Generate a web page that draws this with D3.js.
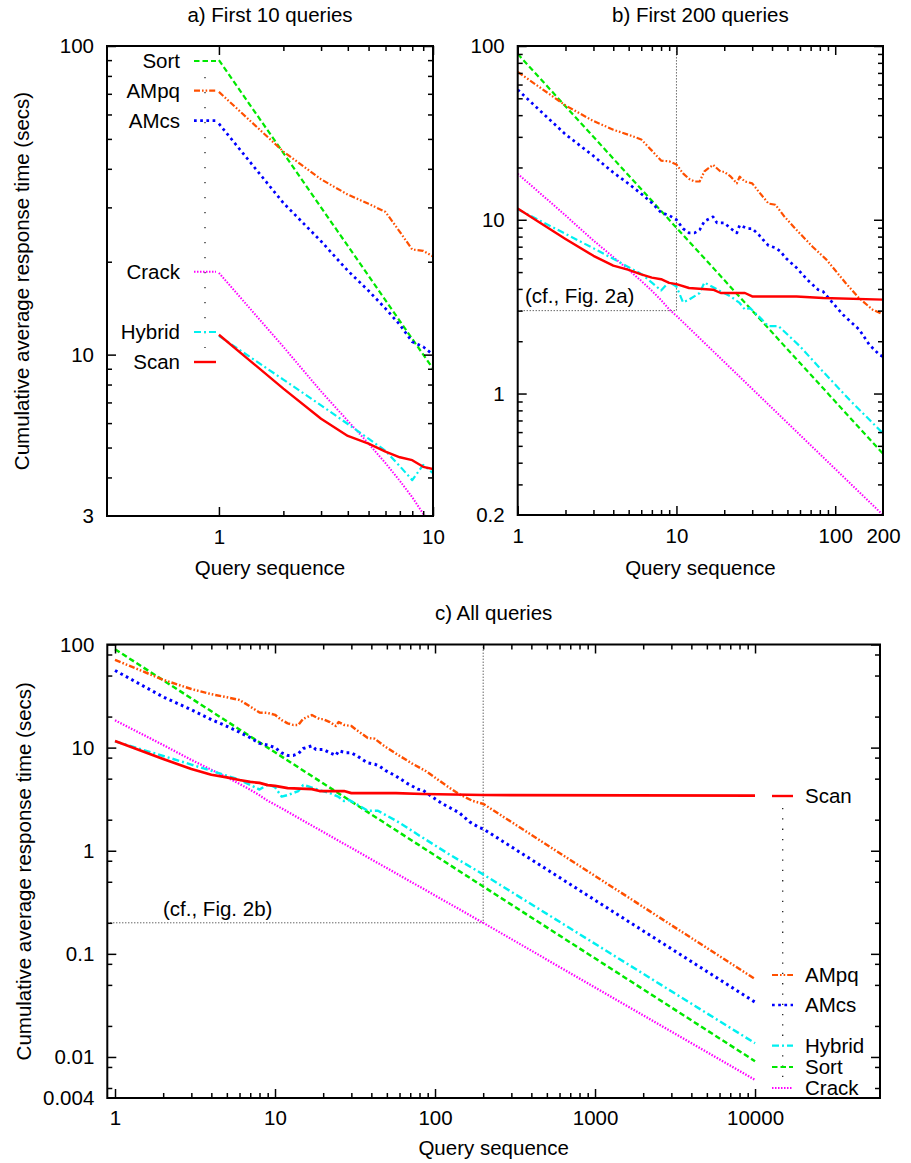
<!DOCTYPE html>
<html>
<head>
<meta charset="utf-8">
<script src="https://cdn.jsdelivr.net/npm/d3@7"></script>
<style>
  html, body { margin: 0; padding: 0; background: #fff; }
  svg { display: block; }
</style>
</head>
<body>
<svg id="chart" width="911" height="1163"></svg>
<script>
// ---- Measured cumulative average response time (secs) per query number ----
const seriesNames = ["Sort", "AMpq", "AMcs", "Crack", "Hybrid", "Scan"];

const sortQ    = [1, 10, 200, 10000];
const sortSecs = [90, 9.0, 0.45, 0.0091];

const ampqQ    = [1, 2, 3, 4, 5, 6, 7, 8, 9, 10, 11, 12, 13, 14, 15, 17, 19, 20, 22, 24, 25, 27, 30, 33, 38, 42, 48, 57, 72, 88, 117, 141, 172, 200, 10000];
const ampqSecs = [71, 45.5, 37, 33, 30.8, 29, 25, 21.9, 21.7, 20.8, 18.5, 17.2, 16.6, 16.6, 19.0, 20.7, 18.9, 18.9, 17.7, 16.2, 17.7, 16.6, 16.2, 14.5, 12.4, 12.2, 10.4, 8.75, 7.0, 5.9, 4.3, 3.55, 3.04, 2.85, 0.057];

const amcsQ    = [1, 2, 3, 4, 5, 6, 7, 8, 9, 10, 11, 12, 13, 14, 15, 17, 18, 20, 22, 24, 25, 28, 30, 33, 35, 38, 42, 45, 49, 57, 67, 78, 84, 97, 112, 142, 164, 190, 200, 10000];
const amcsSecs = [56, 31, 23.3, 18.7, 16.1, 14.1, 12.5, 11.0, 10.6, 10.0, 8.9, 8.4, 8.4, 8.75, 9.8, 10.4, 9.6, 9.6, 8.9, 8.4, 9.3, 8.9, 8.9, 8.2, 7.7, 7.1, 6.9, 6.6, 6.0, 5.3, 4.5, 3.96, 3.86, 3.3, 2.84, 2.33, 1.91, 1.67, 1.63, 0.034];

const crackQ    = [1, 2, 3, 4, 5, 6, 7, 8, 9, 10, 200, 10000];
const crackSecs = [18.4, 10.6, 7.6, 6.1, 5.15, 4.45, 3.9, 3.45, 3.05, 2.8, 0.2, 0.006];

const hybridQ    = [1, 2, 3, 4, 5, 6, 7, 8, 9, 10, 11, 12, 14, 15, 16, 19, 22, 25, 27, 29, 33, 38, 44, 60, 80, 123, 200, 10000];
const hybridSecs = [11.5, 8.3, 6.85, 5.96, 5.34, 4.88, 4.35, 3.92, 4.39, 4.13, 3.35, 3.47, 3.79, 4.35, 4.22, 3.87, 3.62, 3.32, 3.04, 3.11, 2.78, 2.44, 2.44, 1.87, 1.4, 0.92, 0.59, 0.0136];

const scanQ    = [1, 2, 3, 4, 5, 6, 7, 8, 9, 10, 12, 17, 19, 27, 30, 57, 84, 200, 10000];
const scanSecs = [11.6, 7.76, 6.2, 5.45, 5.15, 4.85, 4.65, 4.55, 4.33, 4.26, 4.05, 3.96, 3.79, 3.79, 3.62, 3.62, 3.55, 3.47, 3.42];

// ---- Tick labels ----
const xTicksA = [1, 10];
const yTicksA = [3, 10, 100];
const xTicksB = [1, 10, 100, 200];
const yTicksB = [0.2, 1, 10, 100];
const xTicksC = [1, 10, 100, 1000, 10000];
const yTicksC = [0.004, 0.01, 0.1, 1, 10, 100];

const titles = ["a) First 10 queries", "b) First 200 queries", "c) All queries"];
const xTitle = "Query sequence";
const yTitle = "Cumulative average response time (secs)";

// ---- Assemble series ----
const zip = (q, s) => q.map((d, i) => [d, s[i]]);
const series = {
  Sort:   zip(sortQ, sortSecs),
  AMpq:   zip(ampqQ, ampqSecs),
  AMcs:   zip(amcsQ, amcsSecs),
  Crack:  zip(crackQ, crackSecs),
  Hybrid: zip(hybridQ, hybridSecs),
  Scan:   zip(scanQ, scanSecs)
};

const styles = {
  Sort:   { color: "#00e800", dash: "5.5,3",             width: 2.2 },
  AMpq:   { color: "#ff5000", dash: "6,2,1.6,2,1.6,2",   width: 2.2 },
  AMcs:   { color: "#0000ff", dash: "2.7,3.5",           width: 2.7 },
  Crack:  { color: "#ff00ff", dash: "1.5,1.5",           width: 2 },
  Hybrid: { color: "#00f0f0", dash: "7,3,2,3",           width: 2.2 },
  Scan:   { color: "#ff0000", dash: null,                width: 2.4 }
};

const FONT = "'Liberation Sans', Arial, Helvetica, sans-serif";
const FS = 20.5;

const svg = d3.select("#chart");
svg.append("rect").attr("width", 911).attr("height", 1163).attr("fill", "#fff");

function decadeMultiples(lo, hi, mults) {
  const out = [];
  for (let k = Math.floor(Math.log10(lo)) - 1; k <= Math.ceil(Math.log10(hi)); k++) {
    mults.forEach(m => {
      const v = m * Math.pow(10, k);
      if (v > lo * 1.0001 && v < hi * 0.9999) out.push(v);
    });
  }
  return out;
}
const isDecade = v => Math.abs(Math.log10(v) - Math.round(Math.log10(v))) < 1e-9;
const fmt = d => String(d);

function drawAxisSet(g, x, y, cfg) {
  const [x0, x1] = x.range();
  const [y0, y1] = y.range(); // y0 bottom, y1 top
  const majorLen = 9, minorLen = 5;

  const xMajor = cfg.xTicks.filter(isDecade);
  const yMajor = cfg.yTicks.filter(isDecade);
  const xEdge = cfg.xTicks.filter(v => !isDecade(v));
  const yEdge = cfg.yTicks.filter(v => !isDecade(v));

  function place(axis, transform, withText) {
    const sel = g.append("g").attr("transform", transform).call(axis);
    sel.select(".domain").remove();
    sel.attr("font-family", FONT).attr("font-size", FS);
    sel.selectAll("line").attr("stroke", "#000").attr("stroke-width", 1.5);
    sel.selectAll("text").attr("fill", "#000");
    if (!withText) sel.selectAll("text").remove();
    return sel;
  }

  // bottom / top
  place(d3.axisBottom(x).tickValues(xMajor).tickSizeInner(-majorLen).tickSizeOuter(0).tickPadding(cfg.xPad).tickFormat(fmt),
        `translate(0,${y0})`, true);
  place(d3.axisBottom(x).tickValues(cfg.xMinor).tickSizeInner(-minorLen).tickSizeOuter(0).tickFormat(""),
        `translate(0,${y0})`, false);
  if (xEdge.length)
    place(d3.axisBottom(x).tickValues(xEdge).tickSizeInner(0).tickSizeOuter(0).tickPadding(cfg.xPad).tickFormat(fmt),
          `translate(0,${y0})`, true);
  place(d3.axisTop(x).tickValues(xMajor).tickSizeInner(-majorLen).tickSizeOuter(0).tickFormat(""),
        `translate(0,${y1})`, false);
  place(d3.axisTop(x).tickValues(cfg.xMinor).tickSizeInner(-minorLen).tickSizeOuter(0).tickFormat(""),
        `translate(0,${y1})`, false);

  // left / right
  place(d3.axisLeft(y).tickValues(yMajor).tickSizeInner(-majorLen).tickSizeOuter(0).tickPadding(cfg.yPad).tickFormat(fmt),
        `translate(${x0},0)`, true);
  place(d3.axisLeft(y).tickValues(cfg.yMinor).tickSizeInner(-minorLen).tickSizeOuter(0).tickFormat(""),
        `translate(${x0},0)`, false);
  if (yEdge.length)
    place(d3.axisLeft(y).tickValues(yEdge).tickSizeInner(0).tickSizeOuter(0).tickPadding(cfg.yPad).tickFormat(fmt),
          `translate(${x0},0)`, true);
  place(d3.axisRight(y).tickValues(yMajor).tickSizeInner(-majorLen).tickSizeOuter(0).tickFormat(""),
        `translate(${x1},0)`, false);
  place(d3.axisRight(y).tickValues(cfg.yMinor).tickSizeInner(-minorLen).tickSizeOuter(0).tickFormat(""),
        `translate(${x1},0)`, false);

  g.append("rect")
    .attr("x", x0).attr("y", y1).attr("width", x1 - x0).attr("height", y0 - y1)
    .attr("fill", "none").attr("stroke", "#000").attr("stroke-width", 2);
}

function styleLine(sel, name, scale) {
  const s = styles[name];
  const k = scale || 1;
  sel.attr("fill", "none")
     .attr("stroke", s.color)
     .attr("stroke-width", s.width * k)
     .attr("stroke-linejoin", "round")
     .attr("stroke-dasharray", s.dash);
  return sel;
}

function addText(txt, x, y, anchor, extra) {
  const t = svg.append("text").text(txt)
    .attr("x", x).attr("y", y)
    .attr("text-anchor", anchor)
    .attr("dy", "0.35em")
    .attr("font-family", FONT).attr("font-size", FS).attr("fill", "#000");
  if (extra) extra(t);
  return t;
}

function drawPanel(cfg) {
  const x = d3.scaleLog().domain(cfg.xDomain).range(cfg.xRange);
  const y = d3.scaleLog().domain(cfg.yDomain).range(cfg.yRange);
  const g = svg.append("g");

  const clipId = "clip-" + cfg.id;
  svg.append("clipPath").attr("id", clipId).append("rect")
    .attr("x", cfg.xRange[0]).attr("y", cfg.yRange[1])
    .attr("width", cfg.xRange[1] - cfg.xRange[0])
    .attr("height", cfg.yRange[0] - cfg.yRange[1]);

  const plot = g.append("g").attr("clip-path", `url(#${clipId})`);

  // dotted guide marking the range shown in the previous panel
  if (cfg.guide) {
    const [gq, gv] = cfg.guide;
    plot.append("path")
      .attr("d", `M${cfg.xRange[0]},${y(gv)}H${x(gq)}V${cfg.yRange[1]}`)
      .attr("fill", "none").attr("stroke", "#222").attr("stroke-width", 1)
      .attr("stroke-dasharray", "1,2");
  }

  const line = d3.line().x(d => x(d[0])).y(d => y(d[1]));
  seriesNames.forEach(name => {
    const pts = series[name].filter(d => d[0] <= cfg.qMax);
    styleLine(plot.append("path").datum(pts).attr("d", line), name, cfg.lineScale);
  });

  drawAxisSet(g, x, y, cfg);

  // titles
  const cx = (cfg.xRange[0] + cfg.xRange[1]) / 2;
  addText(cfg.title, cx, cfg.titleY, "middle");
  addText(xTitle, cx, cfg.xTitleY, "middle");
  if (cfg.yTitleX) {
    const cy = (cfg.yRange[0] + cfg.yRange[1]) / 2;
    addText(yTitle, 0, 0, "middle", t =>
      t.attr("transform", `translate(${cfg.yTitleX},${cy}) rotate(-90)`));
  }
  if (cfg.guideLabel) addText(cfg.guideLabel[0], cfg.guideLabel[1], cfg.guideLabel[2], "start");
  return { x, y };
}

// ---- Panel a ----
drawPanel({
  id: "a", title: titles[0], titleY: 15, xTitleY: 568, yTitleX: 22,
  xDomain: [0.3, 10], xRange: [107, 433],
  yDomain: [3, 100], yRange: [516, 46],
  qMax: 10,
  xTicks: xTicksA, xMinor: decadeMultiples(1, 10, [2,3,4,5,6,7,8,9]),
  yTicks: yTicksA, yMinor: decadeMultiples(3, 100, [2,3,4,5,6,7,8,9]),
  xPad: 13, yPad: 13
});

// key for panel a (left of the curves' starting points)
const keyA = [["Sort", 61], ["AMpq", 90.7], ["AMcs", 120.7], ["Crack", 271.7], ["Hybrid", 332], ["Scan", 362]];
svg.append("line").attr("x1", 205).attr("x2", 205).attr("y1", 77).attr("y2", 348)
  .attr("stroke", "#222").attr("stroke-width", 1.3).attr("stroke-dasharray", "1.3,13.7");
keyA.forEach(([name, ky]) => {
  addText(name, 180, ky, "end");
  styleLine(svg.append("path").attr("d", `M194,${ky}H216`), name);
});

// ---- Panel b ----
drawPanel({
  id: "b", title: titles[1], titleY: 15, xTitleY: 568,
  xDomain: [1, 200], xRange: [517.7, 883],
  yDomain: [0.2, 100], yRange: [515, 46],
  qMax: 200,
  xTicks: xTicksB, xMinor: decadeMultiples(1, 200.01, [2,3,4,5,6,7,8,9]),
  yTicks: yTicksB, yMinor: decadeMultiples(0.2, 100, [2,3,4,5,6,7,8,9]),
  xPad: 13, yPad: 13,
  guide: [10, 3], guideLabel: ["(cf., Fig. 2a)", 525, 296]
});

// ---- Panel c ----
drawPanel({
  id: "c", title: titles[2], titleY: 613, xTitleY: 1148, yTitleX: 24,
  xDomain: [0.895, 60400], xRange: [107.3, 880],
  yDomain: [0.004, 100], yRange: [1098, 644.5],
  qMax: 10000, lineScale: 1.12,
  xTicks: xTicksC, xMinor: decadeMultiples(1, 10000, [2,3,4,5,6,7,8,9]),
  yTicks: yTicksC, yMinor: decadeMultiples(0.004, 100, [2,5,8]),
  xPad: 12.5, yPad: 13,
  guide: [200, 0.2], guideLabel: ["(cf., Fig. 2b)", 163, 909]
});

// key for panel c (right of the curves' end points)
const keyC = [["Scan", 796], ["AMpq", 975], ["AMcs", 1005], ["Hybrid", 1045.7], ["Sort", 1067], ["Crack", 1088]];
svg.append("line").attr("x1", 782.7).attr("x2", 782.7).attr("y1", 808).attr("y2", 1078)
  .attr("stroke", "#222").attr("stroke-width", 1.3).attr("stroke-dasharray", "1.3,9");
keyC.forEach(([name, ky]) => {
  addText(name, 805, ky, "start");
  styleLine(svg.append("path").attr("d", `M772,${ky}H793`), name);
});
</script>
</body>
</html>
